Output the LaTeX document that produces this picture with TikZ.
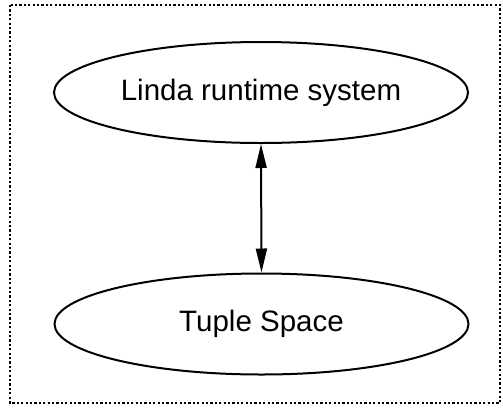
\documentclass[tikz,border=0pt]{standalone}
\usepackage{fontspec}
\setmainfont{Liberation Sans}
\usetikzlibrary{shapes.geometric,arrows.meta}
\begin{document}
\begin{tikzpicture}[x=1pt,y=-1pt,
  frame/.style={line width=1.3pt,dash pattern=on 2.2pt off 2.2pt},
  proc/.style={ellipse,draw,line width=2pt,inner sep=0pt,
    minimum width=414pt,minimum height=101pt,
    font=\fontsize{29.5}{32}\selectfont},
  link/.style={line width=2pt,{Triangle[length=24pt,width=11pt]}-{Triangle[length=24pt,width=11pt]}}]
  \useasboundingbox (0,0) rectangle (503,408);
  % dotted enclosure
  \draw[frame] (10,5) rectangle (500,403);
  % the two layers
  \node[proc] (rts) at (261,92.5) {\raisebox{-3pt}{Linda runtime system}};
  \node[proc] (ts)  at (261.5,324) {\raisebox{-2pt}{Tuple Space}};
  % two-way connection between them
  \draw[link] (rts.south) -- (ts.north);
\end{tikzpicture}
\end{document}
